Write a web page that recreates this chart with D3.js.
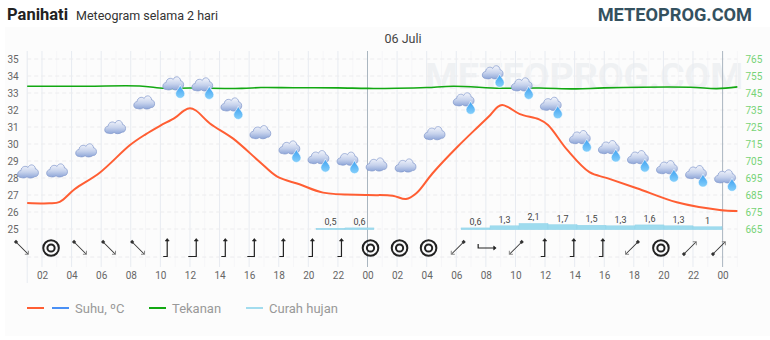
<!DOCTYPE html>
<html>
<head>
<meta charset="utf-8">
<script src="https://cdn.jsdelivr.net/npm/d3@7"></script>
<style>
	html, body { margin: 0; padding: 0; background: #fff; }
	svg { display: block; font-family: Roboto, sans-serif; }
	.axis path { display: none; }
	.axis text { font-family: Roboto, sans-serif; font-size: 10px; fill: #666; }
	.axis.right text { fill: #77d377; }
</style>
</head>
<body>
<svg id="chart" width="770" height="340"></svg>
<script>
const hourTicks = d3.range(2, 49, 2);
const hourLabels = ["02","04","06","08","10","12","14","16","18","20","22","00","02","04","06","08","10","12","14","16","18","20","22","00"];
const tempTicks = d3.range(25, 36);
const pressureTicks = d3.range(665, 766, 10);

const tempHours = [1,2.5,3.2,4.2,5.9,7.95,9,10,11,11.6,12,12.4,13.35,14.9,16.7,17.9,19.4,21,24,25.7,26.6,27.3,28.4,30.1,31.6,32.3,32.8,33.1,33.5,34.3,35.6,36.2,37.5,39,40.2,42.2,44.9,47.8,49];
const tempValues = [26.53,26.51,26.6,27.34,28.31,29.94,30.57,31.08,31.55,31.97,32.1,31.97,31.21,30.33,28.96,28.08,27.63,27.14,27,26.96,26.76,27.1,28.28,29.85,31.12,31.71,32.18,32.29,32.17,31.76,31.45,31.12,29.65,28.34,27.99,27.4,26.57,26.12,26.06];

const pressureHours = [1,5,8.6,10.3,12,15.5,16.8,19,22,24,26,28,29.8,33,35.6,38.1,40,45.8,47.6,49];
const pressureValues = [749,749,749.1,747.8,747.9,747.7,748.2,748.1,748,747.7,747.8,748.2,749,747.8,747.9,747.4,748,748.4,747.6,748.6];

// one slot every two hours, icons and wind marks are laid out on these
const cloudLevels = [28.41,28.47,29.65,31.02,32.47,33.59,33.53,32.35,30.72,29.82,29.25,29.16,28.82,28.76,30.66,32.65,34.24,33.53,32.39,30.43,29.84,29.25,28.66,28.37,28.12];
const cloudRain = [0,0,0,0,0,1,1,1,0,1,1,1,0,0,0,1,1,1,1,1,1,1,1,1,1];
const windDirs = ["NW","calm","NW","NW","NW","S","S","S","S","S","S","S","calm","calm","calm","SW","W","SW","S","S","S","SW","calm","NE","NE"];
const windFeather = [0,0,0,0,0,4,8,4,7,4,4,4,0,0,0,0,4,0,4,4,4,0,0,0,0];
const rainValues = [0,0,0,0,0,0,0,0,0,0,0.5,0.6,0,0,0,0.6,1.3,2.1,1.7,1.5,1.3,1.6,1.3,1];

const svg = d3.select("#chart");

const x = d3.scaleLinear().domain([2, 48]).range([42, 722.6]);
const yTemp = d3.scaleLinear().domain([25, 35]).range([229, 59]);
const yPressure = d3.scaleLinear().domain([665, 765]).range([229, 59]);
const yRain = d3.scaleLinear().domain([0, 10]).range([229.7, 199.7]);
const slot = d3.scaleLinear().domain([0, 24]).range([22, 719]);
const rainBand = d3.scaleBand().domain(d3.range(24)).range([26, 722]);

const plotLeft = x(1), plotRight = x(49);

const defs = svg.append("defs");
const cloudGrad = defs.append("linearGradient").attr("id", "cloudGrad").attr("x1", 0).attr("y1", 0).attr("x2", 0).attr("y2", 1);
cloudGrad.append("stop").attr("offset", 0).attr("stop-color", "#f4f6fc");
cloudGrad.append("stop").attr("offset", 0.55).attr("stop-color", "#c6d2ec");
cloudGrad.append("stop").attr("offset", 1).attr("stop-color", "#8ea6d8");
const dropGrad = defs.append("linearGradient").attr("id", "dropGrad").attr("x1", 0).attr("y1", 0).attr("x2", 0).attr("y2", 1);
dropGrad.append("stop").attr("offset", 0).attr("stop-color", "#3b9ff0");
dropGrad.append("stop").attr("offset", 1).attr("stop-color", "#86d0fb");

// page background
svg.append("rect").attr("x", 5).attr("y", 27).attr("width", 765).attr("height", 309).attr("fill", "#fcfcfc");

// watermark
svg.append("text")
	.attr("x", 425).attr("y", 89)
	.style("font-size", "37.5px").style("font-weight", "bold")
	.attr("fill", "#eff1f3")
	.text("METEOPROG.COM");

// grid
const grid = svg.append("g");
grid.selectAll(".minor").data(d3.range(1, 50, 1).filter(d => d % 2))
	.join("line").attr("class", "minor")
	.attr("x1", d => x(d)).attr("x2", d => x(d)).attr("y1", 51).attr("y2", 267)
	.attr("stroke", "#f6f6f8");
grid.selectAll(".major").data(hourTicks.filter(d => d % 24))
	.join("line").attr("class", "major")
	.attr("x1", d => x(d)).attr("x2", d => x(d)).attr("y1", 51).attr("y2", 267)
	.attr("stroke", "#e7ebf1");
grid.append("line")
	.attr("x1", plotLeft).attr("x2", plotLeft).attr("y1", 51).attr("y2", 283)
	.attr("stroke", "#e7ebf1");
grid.selectAll(".hline").data(tempTicks.concat([23.35]))
	.join("line").attr("class", "hline")
	.attr("x1", plotLeft).attr("x2", plotRight)
	.attr("y1", d => yTemp(d)).attr("y2", d => yTemp(d))
	.attr("stroke", "#ececee").attr("stroke-dasharray", "4,3");
grid.selectAll(".day").data([24, 48])
	.join("line").attr("class", "day")
	.attr("x1", d => x(d)).attr("x2", d => x(d)).attr("y1", 51).attr("y2", 267)
	.attr("stroke", "#aab6c0");

// axes
svg.append("g").attr("class", "axis").attr("transform", `translate(${plotLeft},0)`)
	.call(d3.axisLeft(yTemp).tickValues(tempTicks).tickSize(0).tickPadding(8.5));
svg.append("g").attr("class", "axis right").attr("transform", `translate(${plotRight},0)`)
	.call(d3.axisRight(yPressure).tickValues(pressureTicks).tickSize(0).tickPadding(8));
svg.append("g").attr("class", "axis").attr("transform", "translate(0,267)")
	.call(d3.axisBottom(x).tickValues(hourTicks).tickSize(0).tickPadding(5)
		.tickFormat((d, i) => hourLabels[i]));

// rain
const rainData = rainValues.map((v, i) => ({ i, v })).filter(d => d.v > 0);
svg.selectAll(".rain").data(rainData)
	.join("rect").attr("class", "rain")
	.attr("x", d => rainBand(d.i))
	.attr("width", rainBand.bandwidth())
	.attr("y", d => yRain(d.v))
	.attr("height", d => yRain(0) - yRain(d.v))
	.attr("fill", "#9edbee").attr("stroke", "#8fd2e8").attr("stroke-width", 0.4);
svg.selectAll(".rainLabel").data(rainData)
	.join("text").attr("class", "rainLabel")
	.attr("x", d => rainBand(d.i) + rainBand.bandwidth() / 2)
	.attr("y", d => yRain(d.v) - 3)
	.attr("text-anchor", "middle")
	.style("font-size", "9px").attr("fill", "#444")
	.text(d => String(d.v).replace(".", ","));

// lines
const line = d3.line().curve(d3.curveCatmullRom.alpha(0.5));
svg.append("path")
	.attr("d", line(tempHours.map((h, i) => [x(h), yTemp(tempValues[i])])))
	.attr("fill", "none").attr("stroke", "#ff5e33").attr("stroke-width", 2);
svg.append("path")
	.attr("d", line(pressureHours.map((h, i) => [x(h), yPressure(pressureValues[i])])))
	.attr("fill", "none").attr("stroke", "#12a812").attr("stroke-width", 1.6);

// weather icons
const clouds = svg.selectAll(".cloud").data(cloudLevels)
	.join("g").attr("class", "cloud")
	.attr("transform", (d, i) => `translate(${slot(i) + 6},${yTemp(d)})`);
clouds.append("path")
	.attr("d", "M-7,6.5 C-11.5,6.5 -11.5,0 -7,-0.5 C-7,-4.5 -2,-6 0,-3.5 C1.5,-7.5 7,-7 7.5,-2 C11.5,-2 11.5,6 7,5.5 C4,7.5 1,7.5 -1,5.8 C-3,7.2 -5,7.2 -7,6.5 Z")
	.attr("fill", "url(#cloudGrad)").attr("stroke", "#7f96cb").attr("stroke-width", 0.7);
clouds.filter((d, i) => cloudRain[i])
	.append("path")
	.attr("transform", "translate(7,8.5) scale(1.15)")
	.attr("d", "M0,-5.5 C1,-2.5 4,-0.5 4,2 A4,4 0 0 1 -4,2 C-4,-0.5 -1,-2.5 0,-5.5 Z")
	.attr("fill", "url(#dropGrad)").attr("stroke", "#fff").attr("stroke-width", 0.5);

// wind
const windAngle = { NW: -45, SW: 45, NE: -135, S: 0, W: 90 };
const windData = windDirs.map((dir, i) => ({ dir, i, feather: windFeather[i] }));
const wind = svg.selectAll(".wind").data(windData)
	.join("g").attr("class", "wind")
	.attr("transform", d => `translate(${slot(d.i)},248) rotate(${windAngle[d.dir] || 0})`);

const calm = wind.filter(d => d.dir === "calm");
calm.append("circle").attr("r", 7.8).attr("fill", "none").attr("stroke", "#222").attr("stroke-width", 2);
calm.append("circle").attr("r", 3.6).attr("fill", "none").attr("stroke", "#222").attr("stroke-width", 2);

const diagonal = wind.filter(d => d.dir.length === 2);
diagonal.append("line").attr("y1", -8.5).attr("y2", 8.5).attr("stroke", "#333").attr("stroke-width", 1);
diagonal.append("rect").attr("x", -1.5).attr("y", -10).attr("width", 3).attr("height", 3).attr("fill", "#333");
diagonal.append("path").attr("d", "M-2.5,6.5 L0,9 L2.5,6.5").attr("fill", "none").attr("stroke", "#888").attr("stroke-width", 1);

const straight = wind.filter(d => d.dir === "S" || d.dir === "W");
straight.append("path")
	.attr("d", d => `M0,-8.5 L0,8.5 L${-d.feather},8.5`)
	.attr("fill", "none").attr("stroke", "#222").attr("stroke-width", 1.2);
straight.append("path").attr("d", "M-2,-7 L0,-9.5 L2,-7 Z").attr("fill", "#222").attr("stroke", "#222").attr("stroke-width", 0.6);

// legend
const legendLines = [[27, "#ff5e33"], [52, "#4a90f5"], [149, "#12a812"], [246, "#a2dcee"]];
svg.selectAll(".legendLine").data(legendLines)
	.join("line").attr("class", "legendLine")
	.attr("x1", d => d[0]).attr("x2", d => d[0] + 17)
	.attr("y1", 308).attr("y2", 308)
	.attr("stroke", d => d[1]).attr("stroke-width", 2);
const legendText = [[75, "Suhu, ºC"], [172, "Tekanan"], [269, "Curah hujan"]];
svg.selectAll(".legendText").data(legendText)
	.join("text").attr("class", "legendText")
	.attr("x", d => d[0]).attr("y", 313)
	.style("font-size", "13px").attr("fill", "#999")
	.text(d => d[1]);

// titles
svg.append("text").attr("x", 7).attr("y", 20).style("font-size", "16.5px").style("font-weight", "bold").attr("fill", "#222").text("Panihati");
svg.append("text").attr("x", 76).attr("y", 20).style("font-size", "12.5px").attr("fill", "#333").text("Meteogram selama 2 hari");
svg.append("text").attr("x", 752).attr("y", 21).attr("text-anchor", "end").style("font-size", "18.2px").style("font-weight", "bold").attr("fill", "#34515f").text("METEOPROG.COM");
svg.append("text").attr("x", 403).attr("y", 43).attr("text-anchor", "middle").style("font-size", "12.5px").attr("fill", "#444").text("06 Juli");
</script>
</body>
</html>
